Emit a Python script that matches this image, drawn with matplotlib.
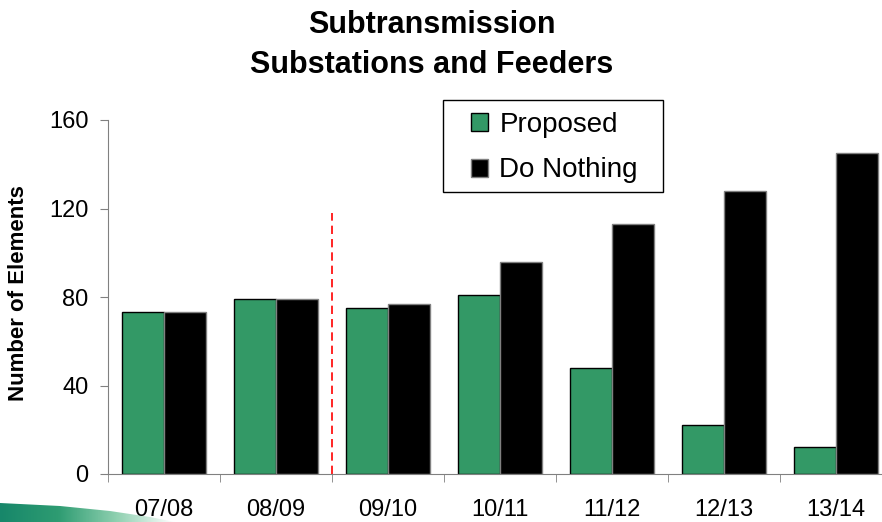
import numpy as np
import matplotlib.pyplot as plt
from matplotlib.patches import Polygon, Rectangle
from matplotlib.colors import LinearSegmentedColormap

plt.rcParams['font.family'] = ['Liberation Sans', 'DejaVu Sans']

years = ['07/08', '08/09', '09/10', '10/11', '11/12', '12/13', '13/14']
proposed = [73, 79, 75, 81, 48, 22, 12]
do_nothing = [73, 79, 77, 96, 113, 128, 145]
split_at = 1.5      # boundary between actual and forecast years
split_top = 118

green = '#339966'
grey = '#808080'
W, H = 882, 522

fig = plt.figure(figsize=(W / 100, H / 100), dpi=100)

# decorative swoosh in the bottom-left corner (pixel coords, y down)
deco = fig.add_axes([0, 0, 1, 1], zorder=-1)
deco.set_xlim(0, W)
deco.set_ylim(H, 0)
deco.axis('off')
grad = np.linspace(0, 1, 200)[None, :]
cmap = LinearSegmentedColormap.from_list('sw', ['#17876a', '#2e9c72', '#8fd0b0', '#ffffff'])
img = deco.imshow(grad, cmap=cmap, extent=[0, 175, H, 498], aspect='auto')
shape = Polygon([[0, 503], [60, 506], [110, 511], [150, 517], [175, 522], [0, 522]],
                closed=True, transform=deco.transData, facecolor='none', edgecolor='none')
deco.add_patch(shape)
img.set_clip_path(shape)

ax = fig.add_axes([108 / W, 48 / H, 784 / W, 354 / H])

x = np.arange(len(years))
w = 0.375
ax.bar(x - w / 2, proposed, w, color=green, edgecolor='black', linewidth=1.0, label='Proposed')
ax.bar(x + w / 2, do_nothing, w, color='black', edgecolor=grey, linewidth=1.0, label='Do Nothing')

ax.plot([split_at, split_at], [0, split_top], color='red', linestyle=(0, (5, 3)), linewidth=1.2)

ax.set_xlim(-0.5, len(years) - 0.5)
ax.set_ylim(0, 160)
ax.set_yticks([0, 40, 80, 120, 160])
ax.set_xticks(x)
ax.set_xticklabels(years)
ax.set_xticks(np.arange(-0.5, len(years)), minor=True)
ax.tick_params(axis='x', which='major', length=0, pad=18, labelsize=17)
ax.tick_params(axis='x', which='minor', length=6, color=grey, direction='out')
ax.tick_params(axis='y', length=6, color=grey, labelsize=17, pad=8)
for s in ['top', 'right']:
    ax.spines[s].set_visible(False)
for s in ['left', 'bottom']:
    ax.spines[s].set_color(grey)

fig.text(19 / W, 1 - 293 / H, 'Number of Elements', rotation=90,
         ha='center', va='center', fontsize=16, fontweight='bold')

fig.text(432 / W, 1 - 33 / H, 'Subtransmission', ha='center', va='baseline',
         fontsize=22, fontweight='bold')
fig.text(432 / W, 1 - 73 / H, 'Substations and Feeders', ha='center', va='baseline',
         fontsize=22, fontweight='bold')

# legend box drawn separately so its padding can be set per side
ax.add_patch(Rectangle((443 / W, 1 - 192 / H), 220 / W, 92 / H,
                       transform=fig.transFigure, facecolor='white', edgecolor='black',
                       linewidth=1.0, clip_on=False, zorder=4))
leg = ax.legend(loc='upper left', bbox_to_anchor=(471 / W, 1 - 112 / H),
                bbox_transform=fig.transFigure, fontsize=20, frameon=False,
                handlelength=0.62, handleheight=0.62, handletextpad=0.4,
                borderpad=0, labelspacing=0.7, borderaxespad=0)
leg.set_zorder(5)

fig.savefig('out.png', dpi=100)
